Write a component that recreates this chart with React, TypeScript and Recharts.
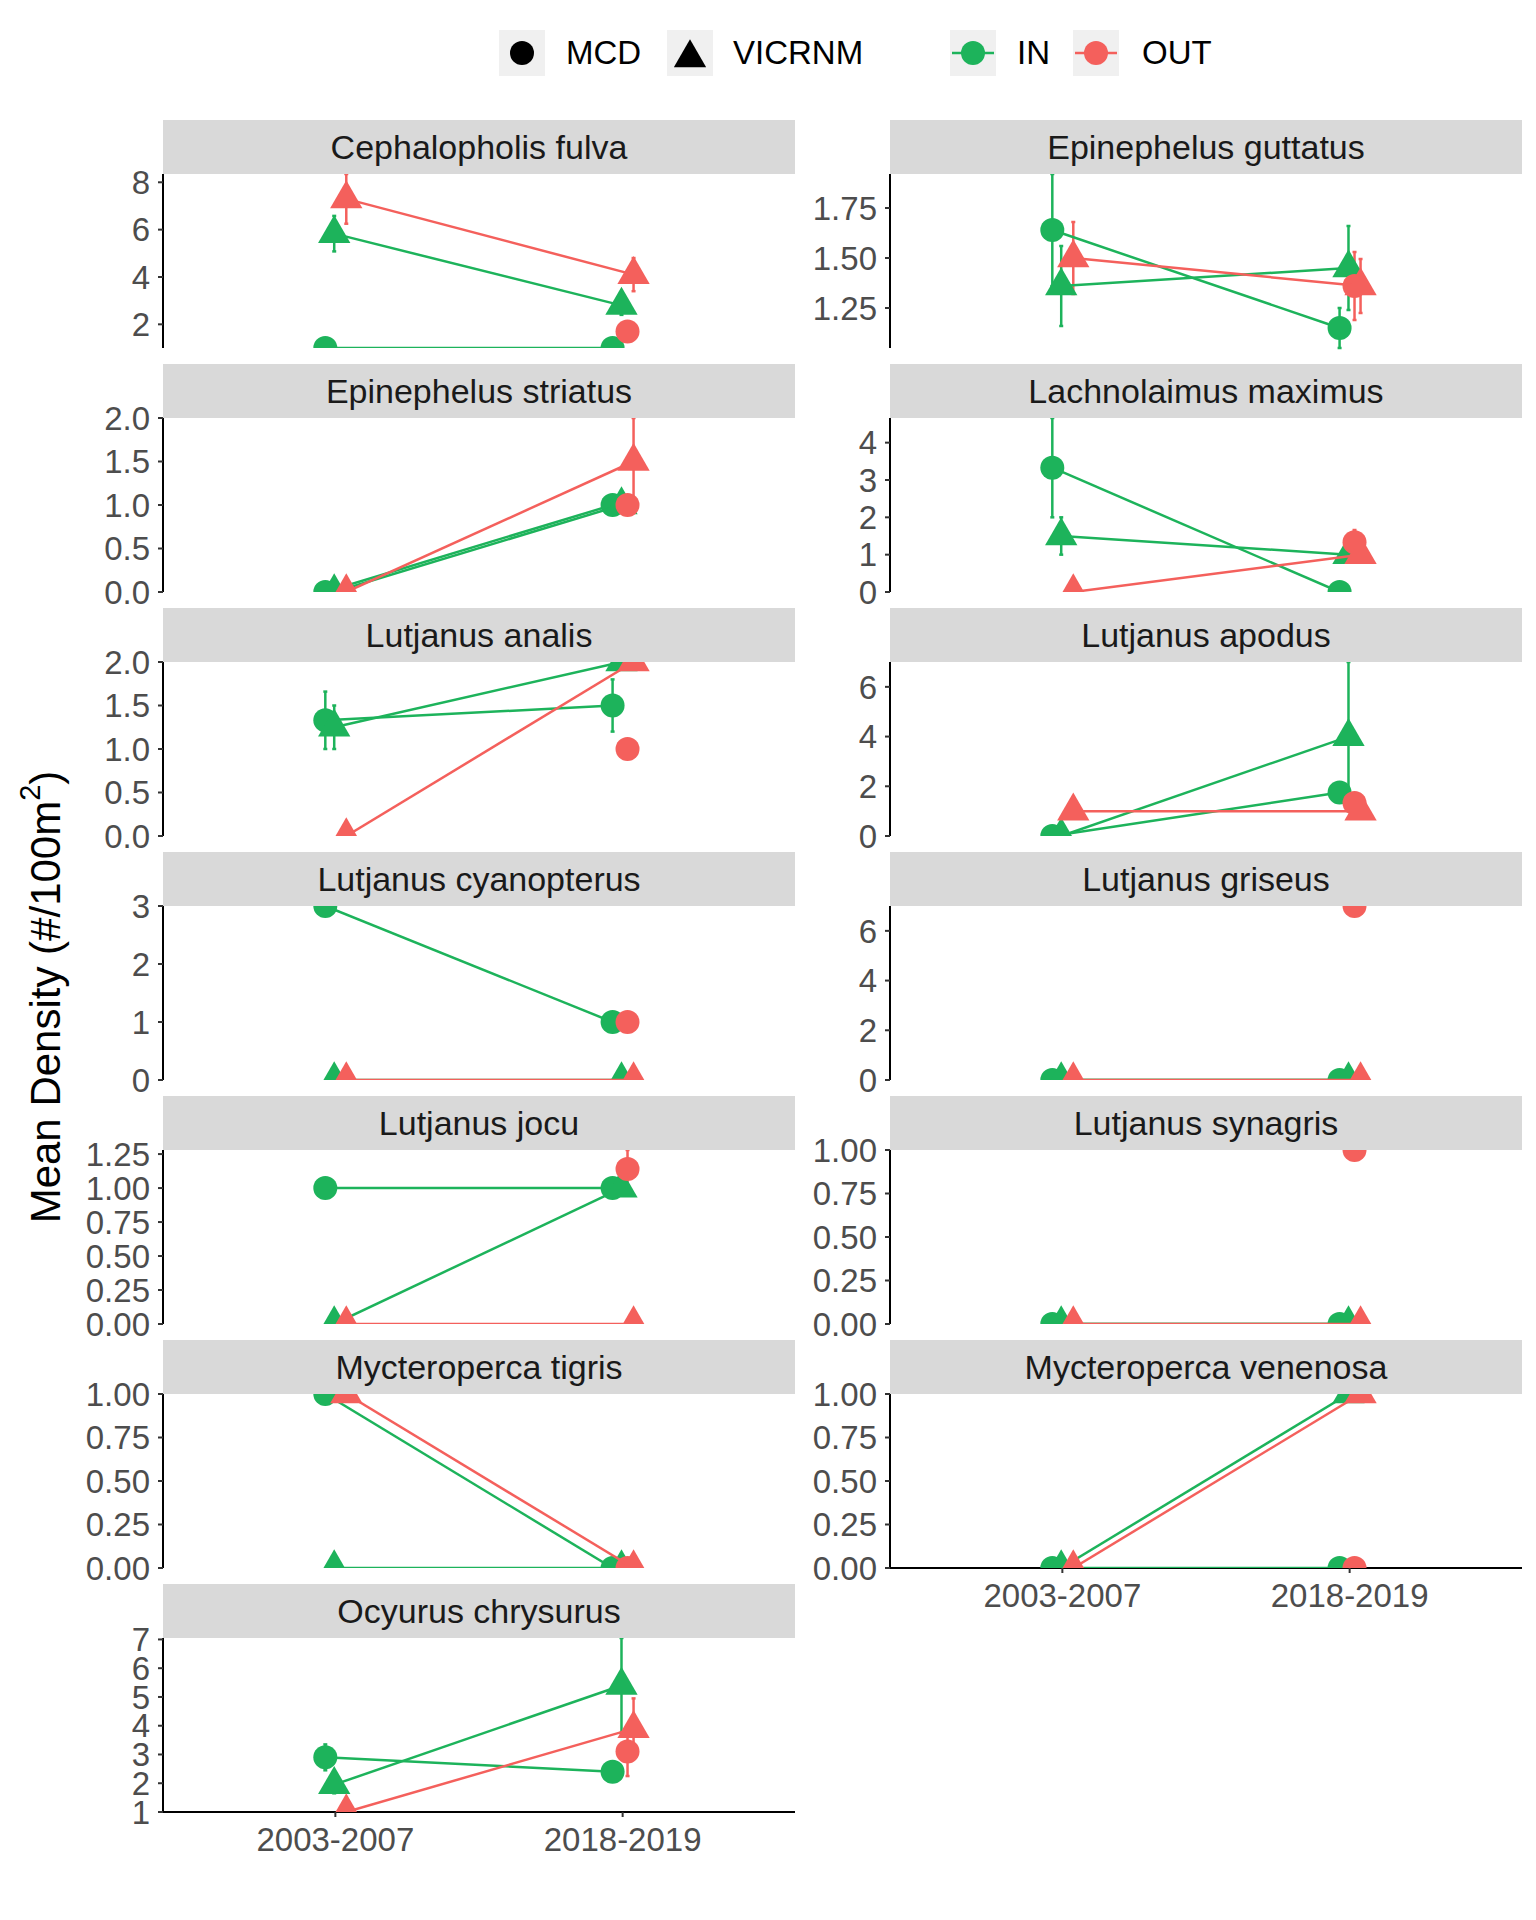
import { ScatterChart, Scatter, XAxis, YAxis, ErrorBar } from "recharts";

const FONT = '"Liberation Sans", Arial, Helvetica, sans-serif';
const GREEN = "#1db35b";
const RED = "#f4605c";

const PERIODS = ["2003-2007", "2018-2019"];

const SPECIES = [
  "Cephalopholis fulva",
  "Epinephelus guttatus",
  "Epinephelus striatus",
  "Lachnolaimus maximus",
  "Lutjanus analis",
  "Lutjanus apodus",
  "Lutjanus cyanopterus",
  "Lutjanus griseus",
  "Lutjanus jocu",
  "Lutjanus synagris",
  "Mycteroperca tigris",
  "Mycteroperca venenosa",
  "Ocyurus chrysurus",
];

type Pair = [number | null, number | null];

// mean density per species: [2003-2007, 2018-2019]
const IN_MCD: Pair[] = [
  [1, 1], [1.64, 1.15], [0, 1], [3.33, 0], [1.33, 1.5], [0, 1.75], [3, 1],
  [0, 0], [1, 1], [0, 0], [1, 0], [0, 0], [2.9, 2.4],
];
const IN_MCD_SE: Pair[] = [
  [null, null], [0.28, 0.1], [null, null], [1.33, null], [0.33, 0.3], [null, null], [null, null],
  [null, null], [null, null], [null, null], [null, null], [null, null], [0.45, 0.3],
];
const IN_VICRNM: Pair[] = [
  [5.83, 2.8], [1.36, 1.45], [0, 1], [1.5, 1], [1.25, 2], [0, 4], [0, 0],
  [0, 0], [0, 1], [0, 0], [0, 0], [0, 1], [1.95, 5.4],
];
const IN_VICRNM_SE: Pair[] = [
  [0.75, 0.4], [0.2, 0.21], [null, null], [0.5, null], [0.25, null], [null, 3], [null, null],
  [null, null], [null, null], [null, null], [null, null], [null, null], [0.3, 1.65],
];
const OUT_MCD: Pair[] = [
  [null, 1.7], [null, 1.36], [null, 1], [null, 1.33], [null, 1], [null, 1.33], [null, 1],
  [null, 7], [null, 1.14], [null, 1], [null, 0], [null, 0], [null, 3.1],
];
const OUT_MCD_SE: Pair[] = [
  [null, null], [null, 0.17], [null, null], [null, 0.33], [null, null], [null, null], [null, null],
  [null, null], [null, 0.14], [null, null], [null, null], [null, null], [null, 0.85],
];
const OUT_VICRNM: Pair[] = [
  [7.3, 4.1], [1.5, 1.36], [0, 1.5], [0, 1], [0, 2], [1, 1], [0, 0],
  [0, 0], [0, 0], [0, 0], [1, 0], [0, 1], [1, 3.9],
];
const OUT_VICRNM_SE: Pair[] = [
  [1.05, 0.7], [0.18, 0.135], [null, 0.5], [null, null], [null, null], [null, null], [null, null],
  [null, null], [null, null], [null, null], [null, null], [null, null], [null, 1.05],
];

const Y_LIMITS: [number, number][] = [
  [1, 8.35], [1.05, 1.92], [0, 2], [0, 4.66], [0, 2], [0, 7], [0, 3],
  [0, 7], [0, 1.28], [0, 1], [0, 1], [0, 1], [1, 7.05],
];
const Y_TICKS: number[][] = [
  [2, 4, 6, 8],
  [1.25, 1.5, 1.75],
  [0, 0.5, 1, 1.5, 2],
  [0, 1, 2, 3, 4],
  [0, 0.5, 1, 1.5, 2],
  [0, 2, 4, 6],
  [0, 1, 2, 3],
  [0, 2, 4, 6],
  [0, 0.25, 0.5, 0.75, 1, 1.25],
  [0, 0.25, 0.5, 0.75, 1],
  [0, 0.25, 0.5, 0.75, 1],
  [0, 0.25, 0.5, 0.75, 1],
  [1, 2, 3, 4, 5, 6, 7],
];
const Y_DIGITS = [0, 2, 1, 0, 1, 0, 0, 0, 2, 2, 2, 2, 0];

const SERIES = [
  { name: "IN MCD", values: IN_MCD, se: IN_MCD_SE, color: GREEN, shape: "circle", dodge: -0.035 },
  { name: "IN VICRNM", values: IN_VICRNM, se: IN_VICRNM_SE, color: GREEN, shape: "triangle", dodge: -0.004 },
  { name: "OUT MCD", values: OUT_MCD, se: OUT_MCD_SE, color: RED, shape: "circle", dodge: 0.017 },
  { name: "OUT VICRNM", values: OUT_VICRNM, se: OUT_VICRNM_SE, color: RED, shape: "triangle", dodge: 0.038 },
];

const R = 12;
const PLOT_W = 632;
const PLOT_H = 174;
const STRIP_H = 54;
const AXIS_W = 90;
const PAD = 22;

function Mark({ cx, cy, color, shape }: any) {
  if (cx == null || cy == null) return null;
  if (shape === "circle") return <circle cx={cx} cy={cy} r={R} fill={color} />;
  const pts = `${cx},${cy - 1.555 * R} ${cx + 1.347 * R},${cy + 0.778 * R} ${cx - 1.347 * R},${cy + 0.778 * R}`;
  return <polygon points={pts} fill={color} />;
}

function seriesData(s: (typeof SERIES)[number], i: number) {
  const out: { x: number; y: number; err: number | null }[] = [];
  s.values[i].forEach((v, k) => {
    if (v == null) return;
    out.push({ x: k + 1 + s.dodge, y: v, err: s.se[i][k] });
  });
  return out;
}

function Panel({ index }: { index: number }) {
  const col = index % 2;
  const row = Math.floor(index / 2);
  const plotLeft = col === 0 ? 163 : 890;
  const stripTop = 120 + row * 244;
  const plotTop = stripTop + STRIP_H;
  const bottom = index >= SPECIES.length - 2;
  const xH = 60;
  const digits = Y_DIGITS[index];
  const tick = { fill: "#4d4d4d", fontSize: 33, fontFamily: FONT };

  return (
    <>
      <div style={{ position: "absolute", left: plotLeft - AXIS_W, top: plotTop - PAD }}>
        <ScatterChart
          width={AXIS_W + PLOT_W}
          height={PAD + PLOT_H + (bottom ? xH : PAD)}
          margin={{ top: PAD, right: 0, bottom: bottom ? 0 : PAD, left: 0 }}
        >
          <XAxis
            type="number"
            dataKey="x"
            domain={[0.4, 2.6]}
            ticks={[1, 2]}
            tickFormatter={(v: number) => PERIODS[Math.round(v) - 1]}
            hide={!bottom}
            height={xH}
            tick={tick}
            tickSize={5}
            tickMargin={11}
            axisLine={{ stroke: "#000", strokeWidth: 2 }}
            tickLine={{ stroke: "#333", strokeWidth: 2 }}
          />
          <YAxis
            type="number"
            dataKey="y"
            domain={Y_LIMITS[index]}
            ticks={Y_TICKS[index]}
            allowDataOverflow
            interval={0}
            width={AXIS_W}
            tick={tick}
            tickSize={5}
            tickMargin={8}
            tickFormatter={(v: number) => v.toFixed(digits)}
            axisLine={{ stroke: "#000", strokeWidth: 2 }}
            tickLine={{ stroke: "#333", strokeWidth: 2 }}
          />
          {SERIES.map((s) => (
            <Scatter
              key={s.name}
              name={s.name}
              data={seriesData(s, index)}
              fill={s.color}
              line={{ stroke: s.color, strokeWidth: 2.5 }}
              shape={(p: any) => <Mark cx={p.cx} cy={p.cy} color={s.color} shape={s.shape} />}
              isAnimationActive={false}
            >
              <ErrorBar dataKey="err" direction="y" width={2} stroke={s.color} strokeWidth={2.5} />
            </Scatter>
          ))}
        </ScatterChart>
      </div>
      <div
        style={{
          position: "absolute",
          left: plotLeft,
          top: stripTop,
          width: PLOT_W,
          height: STRIP_H,
          background: "#d9d9d9",
          color: "#1a1a1a",
          fontSize: 34,
          display: "flex",
          alignItems: "center",
          justifyContent: "center",
        }}
      >
        {SPECIES[index]}
      </div>
    </>
  );
}

function LegendKey({ left, kind, color }: { left: number; kind: string; color: string }) {
  return (
    <svg width={46} height={46} style={{ position: "absolute", left, top: 30, background: "#f0f0f0" }}>
      {kind === "line" && <line x1={2} y1={23} x2={44} y2={23} stroke={color} strokeWidth={2.5} />}
      <Mark cx={23} cy={kind === "triangle" ? 28 : 23} color={color} shape={kind === "triangle" ? "triangle" : "circle"} />
    </svg>
  );
}

function LegendText({ left, text }: { left: number; text: string }) {
  return (
    <div style={{ position: "absolute", left, top: 34, fontSize: 33, lineHeight: "38px", color: "#000" }}>{text}</div>
  );
}

export default function App() {
  return (
    <div
      style={{
        position: "absolute",
        left: 0,
        top: 0,
        width: 1536,
        height: 1920,
        background: "#fff",
        fontFamily: FONT,
        overflow: "hidden",
      }}
    >
      <LegendKey left={499} kind="circle" color="#000" />
      <LegendText left={566} text="MCD" />
      <LegendKey left={667} kind="triangle" color="#000" />
      <LegendText left={733} text="VICRNM" />
      <LegendKey left={950} kind="line" color={GREEN} />
      <LegendText left={1017} text="IN" />
      <LegendKey left={1073} kind="line" color={RED} />
      <LegendText left={1142} text="OUT" />

      <svg width={80} height={640} style={{ position: "absolute", left: 5, top: 677 }}>
        <text
          x={40}
          y={320}
          transform="rotate(-90 40 320)"
          textAnchor="middle"
          dominantBaseline="central"
          fontSize={42}
          fontFamily={FONT}
          fill="#000"
        >
          Mean Density (#/100m
          <tspan dy={-15} fontSize={29}>2</tspan>
          <tspan dy={15}>)</tspan>
        </text>
      </svg>

      {SPECIES.map((_, i) => (
        <Panel key={i} index={i} />
      ))}
    </div>
  );
}
